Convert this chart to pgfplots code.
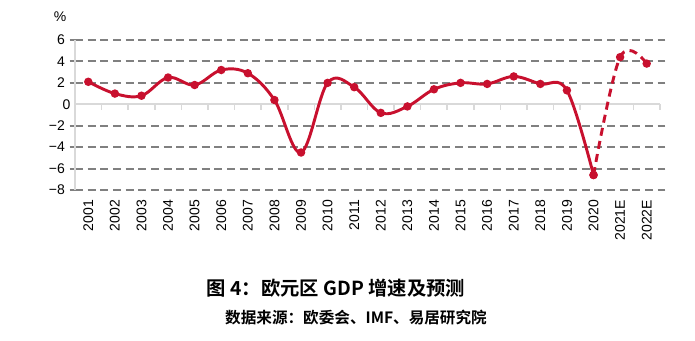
\documentclass[border=0pt]{standalone}
\usepackage{pgfplots}
\pgfplotsset{compat=1.18}
\usepackage{fontspec}
\setmainfont{Liberation Sans}
\newfontfamily\cjk{Noto Sans CJK SC}[BoldFont=* Bold]
\definecolor{lc}{HTML}{C8102E}
\definecolor{gridc}{HTML}{808080}
\definecolor{axc}{HTML}{D9D9D9}
\begin{document}
\begin{tikzpicture}
\useasboundingbox (0,0) rectangle (521.25pt,255pt);
\begin{axis}[
  at={(56.25pt,112.5pt)}, anchor=south west,
  scale only axis, width=438.75pt, height=112.5pt,
  xmin=-0.5, xmax=21.5, ymin=-8, ymax=6,
  axis line style={draw=none},
  xtick={0,...,21},
  xticklabels={2001,2002,2003,2004,2005,2006,2007,2008,2009,2010,2011,2012,2013,2014,2015,2016,2017,2018,2019,2020,2021E,2022E},
  x tick label style={rotate=90, anchor=east, font=\fontsize{10.5}{12}\selectfont},
  major x tick style={draw=none},
  ytick={-8,-6,-4,-2,2,4,6},
  yticklabels={−8,−6,−4,−2,2,4,6},
  extra y ticks={0}, extra y tick labels={0},
  extra y tick style={grid=none, major tick length=0pt},
  y tick label style={font=\fontsize{10.5}{12}\selectfont},
  /pgf/number format/assume math mode=true,
  ymajorgrids,
  major grid style={gridc, line width=1.5pt, dash pattern=on 6pt off 3.5pt},
  major y tick style={gridc, line width=1.5pt},
  major tick length=4pt,
  tick align=outside,
  clip=false,
]
\draw[axc, line width=1.5pt] (axis cs:-0.5,-8) -- (axis cs:-0.5,6);
\draw[axc, line width=1.5pt] (axis cs:-0.5,0) -- (axis cs:21.5,0);
\pgfplotsinvokeforeach{0,...,21}{
  \draw[axc, line width=1.2pt] (axis cs:#1+0.5,0) -- ++(0pt,-4.5pt);
}
\addplot[lc, line width=2.2pt, smooth, tension=0.6, mark=*, mark size=2pt] coordinates {
(0,2.1) (1,1.0) (2,0.8) (3,2.5) (4,1.8) (5,3.2) (6,2.9) (7,0.4) (8,-4.5) (9,2.0)
(10,1.6) (11,-0.8) (12,-0.2) (13,1.4) (14,2.0) (15,1.9) (16,2.6) (17,1.9) (18,1.3) (19,-6.6)
};
\addplot[lc, line width=2.2pt, smooth, tension=0.6, dash pattern=on 6pt off 4pt, mark=*, mark size=2pt, mark options={solid}] coordinates {
(19,-6.6) (20,4.4) (21,3.8)
};
\end{axis}
\node[font=\fontsize{10.5}{12}\selectfont] at (45pt,242.25pt) {\%};
\node[font=\cjk\bfseries\fontsize{14.5}{16}\selectfont] at (252pt,39pt) {图 4：欧元区 GDP 增速及预测};
\node[font=\cjk\bfseries\fontsize{11.7}{13}\selectfont] at (267pt,16.5pt) {数据来源：欧委会、IMF、易居研究院};
\end{tikzpicture}
\end{document}
